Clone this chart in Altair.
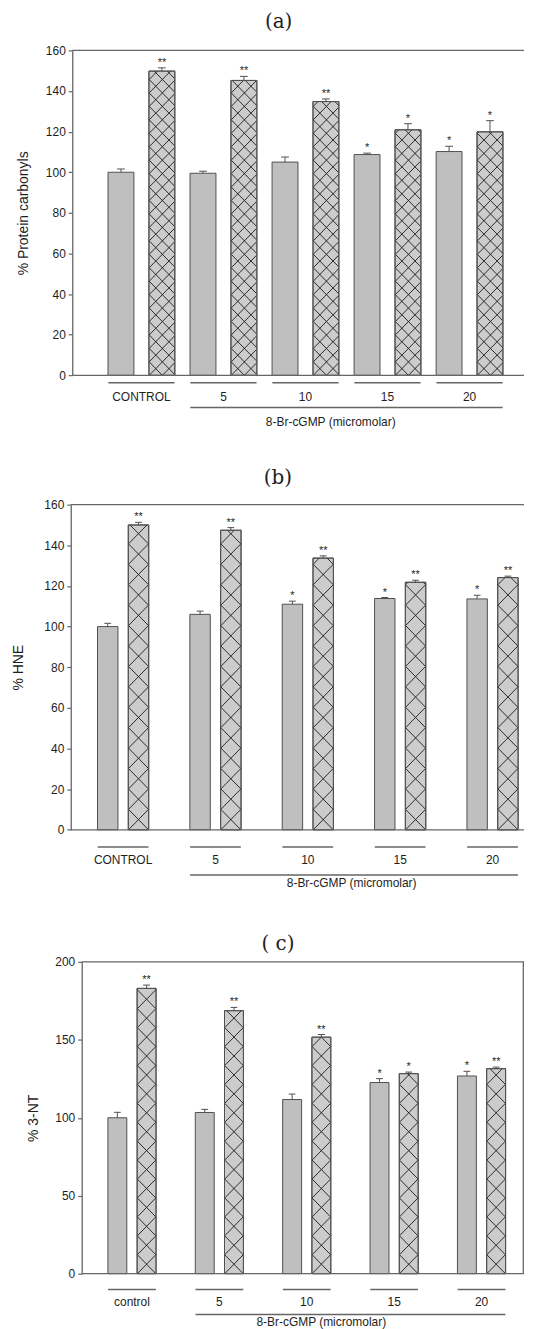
import altair as alt
import pandas as pd

# ---------------- data ----------------
groups_ab = ["CONTROL", "5", "10", "15", "20"]
groups_c = ["control", "5", "10", "15", "20"]

carb_gray = [100.0, 99.5, 105.0, 108.7, 110.2]
carb_gray_err = [1.6, 1.0, 2.5, 0.7, 2.6]
carb_hatch = [149.8, 145.2, 134.8, 120.9, 119.9]
carb_hatch_err = [1.6, 2.0, 1.3, 3.0, 5.5]
carb_gray_sig = ["", "", "", "*", "*"]
carb_hatch_sig = ["**", "**", "**", "*", "*"]

hne_gray = [100.0, 106.0, 111.0, 113.8, 113.6]
hne_gray_err = [1.6, 1.6, 1.5, 0.5, 1.8]
hne_hatch = [150.0, 147.4, 133.7, 121.8, 124.1]
hne_hatch_err = [1.3, 1.3, 1.1, 1.0, 0.7]
hne_gray_sig = ["", "", "*", "*", "*"]
hne_hatch_sig = ["**", "**", "**", "**", "**"]

nt_gray = [100.0, 103.4, 111.7, 122.6, 126.8]
nt_gray_err = [3.5, 2.0, 3.5, 2.5, 3.0]
nt_hatch = [183.0, 168.7, 151.7, 128.3, 131.5]
nt_hatch_err = [2.1, 2.1, 1.7, 1.0, 1.0]
nt_gray_sig = ["", "", "", "*", "*"]
nt_hatch_sig = ["**", "**", "**", "*", "**"]

panel_titles = ["(a)", "(b)", "( c)"]
y_titles = ["% Protein carbonyls", "% HNE", "% 3-NT"]
y_ticks_ab = [0, 20, 40, 60, 80, 100, 120, 140, 160]
y_ticks_c = [0, 50, 100, 150, 200]
dose_title = "8-Br-cGMP (micromolar)"

# ---------------- styles ----------------
FONT = "Liberation Sans"
TFONT = "DejaVu Serif"
LINE = "#666666"
EDGE = "#505050"
TEXT = "#1e1e1e"
GRAY = "#bfbfbf"
HGRAY = "#cccccc"
HATCH = "#1a1a1a"

datasets = [
    dict(groups=groups_ab, gray=carb_gray, gray_err=carb_gray_err, gray_sig=carb_gray_sig,
         hatch=carb_hatch, hatch_err=carb_hatch_err, hatch_sig=carb_hatch_sig,
         ymax=160, ticks=y_ticks_ab, title=panel_titles[0], ytitle=y_titles[0]),
    dict(groups=groups_ab, gray=hne_gray, gray_err=hne_gray_err, gray_sig=hne_gray_sig,
         hatch=hne_hatch, hatch_err=hne_hatch_err, hatch_sig=hne_hatch_sig,
         ymax=160, ticks=y_ticks_ab, title=panel_titles[1], ytitle=y_titles[1]),
    dict(groups=groups_c, gray=nt_gray, gray_err=nt_gray_err, gray_sig=nt_gray_sig,
         hatch=nt_hatch, hatch_err=nt_hatch_err, hatch_sig=nt_hatch_sig,
         ymax=200, ticks=y_ticks_c, title=panel_titles[2], ytitle=y_titles[2]),
]

# common plot-area origin and right edge (page pixels); the chart must stay <= 518 px wide
ORIGIN = 71.0
RIGHT = 525.0
PAGE = 8.0

layouts = [
    dict(axis_x=71.5, top=47.1, bottom=373.3, c0=137.4, gap=84.2, pair=42.0, bw=26, hatch=13.5,
         cap=8, tx=278.7, ty=18.8, ytx=22.5, short_y=380.8, label_y=395.5, long_y=405.7,
         text_x=331, text_y=420, frame=False, cell=(8, 440)),
    dict(axis_x=70.0, top=501.3, bottom=827.7, c0=118.6, gap=94.8, pair=31.6, bw=20.5, hatch=20.5,
         cap=7, tx=278, ty=474.6, ytx=17.7, short_y=845, label_y=858, long_y=873,
         text_x=352, text_y=881, frame=False, cell=(440, 900)),
    dict(axis_x=81.0, top=958, bottom=1271, c0=127.7, gap=89.7, pair=30.0, bw=19, hatch=19,
         cap=7, tx=278, ty=940, ytx=32.5, short_y=1287, label_y=1299, long_y=1312,
         text_x=321.5, text_y=1320, frame=True, cell=(900, 1000)),
]


def build(d, lay):
    L, R, T, B = ORIGIN, RIGHT, lay["top"], lay["bottom"]
    W, H = R - L, B - T
    G = lay["gap"]
    lo = (L - lay["c0"]) / G
    hi = (R - lay["c0"]) / G
    ymax = d["ymax"]
    half_pair = lay["pair"] / 2 / G
    half_bar = lay["bw"] / 2 / G
    half_cap = lay["cap"] / 2 / G
    fl = lay["axis_x"] - L  # visible left frame position inside the plot area

    def xpx(u):
        return (u - lo) * G

    def ypx(v):
        return H * (1 - v / ymax)

    def u_of(px):
        return lo + px / G

    def v_of(py):
        return ymax * (1 - py / H)

    bars = []
    for i, g in enumerate(d["groups"]):
        for s, key in enumerate(["gray", "hatch"]):
            u = i + (2 * s - 1) * half_pair
            v = d[key][i]
            e = d[key + "_err"][i]
            bars.append({"group": g, "series": key, "u": u, "v": v, "top": v + e,
                         "ul": u - half_cap, "ur": u + half_cap, "sig": d[key + "_sig"][i]})
    bdf = pd.DataFrame(bars)

    # cross-hatch segments clipped to each hatched bar
    hrows = []
    w = lay["hatch"]
    for r in bars:
        if r["series"] != "hatch":
            continue
        X0 = xpx(r["u"]) - lay["bw"] / 2
        X1 = X0 + lay["bw"]
        Yt = ypx(r["v"])
        Yb = H
        for k in range(-200, 200):
            c = X0 - Yb + k * w
            a, b = max(X0, Yt + c), min(X1, Yb + c)
            if b - a > 0.3:
                hrows.append({"x1": u_of(a), "x2": u_of(b), "y1": v_of(a - c), "y2": v_of(b - c)})
            c = X0 + Yb + k * w
            a, b = max(X0, c - Yb), min(X1, c - Yt)
            if b - a > 0.3:
                hrows.append({"x1": u_of(a), "x2": u_of(b), "y1": v_of(c - a), "y2": v_of(c - b)})
    hdf = pd.DataFrame(hrows)

    n = len(d["groups"])
    gdf = pd.DataFrame({
        "label": d["groups"],
        "u": list(range(n)),
        "ul": [i - half_pair - half_bar for i in range(n)],
        "ur": [i + half_pair + half_bar for i in range(n)],
    })
    ldf = pd.DataFrame({"ul": [1 - half_pair - half_bar], "ur": [n - 1 + half_pair + half_bar]})
    one = pd.DataFrame({"k": [0]})
    tdf = pd.DataFrame({"t": [dose_title]})
    ttl = pd.DataFrame({"t": [d["title"]]})

    xs = alt.Scale(domain=[lo, hi], nice=False, zero=False)
    ys = alt.Scale(domain=[0, ymax], nice=False)
    xaxis = alt.Axis(labels=False, ticks=False, title=None, grid=False, domain=False)
    yaxis = alt.Axis(values=d["ticks"], title=d["ytitle"], grid=False, offset=-fl,
                     tickSize=4, tickColor=LINE, tickWidth=1.2, domainColor=LINE,
                     domainWidth=1.3, labelFont=FONT, labelFontSize=12, labelColor=TEXT,
                     labelPadding=3, titleFont=FONT, titleFontSize=14,
                     titleFontWeight="normal", titleColor=TEXT,
                     titleX=lay["ytx"] - lay["axis_x"], titleY=H / 2, titleAngle=270,
                     titleAlign="center", titleBaseline="middle")

    def X(f):
        return alt.X(f, type="quantitative", scale=xs, axis=xaxis)

    def Y(f):
        return alt.Y(f, type="quantitative", scale=ys, axis=yaxis)

    layers = []
    # invisible anchor fixing the cell's extent
    layers.append(alt.Chart(one).mark_rule(opacity=0, strokeWidth=0.1).encode(
        x=alt.value(PAGE - L), y=alt.value(lay["cell"][0] - T), y2=alt.value(lay["cell"][1] - T)))
    layers.append(alt.Chart(bdf[bdf.series == "gray"]).mark_bar(
        size=lay["bw"], fill=GRAY, stroke=EDGE, strokeWidth=1).encode(x=X("u"), y=Y("v")))
    layers.append(alt.Chart(bdf[bdf.series == "hatch"]).mark_bar(
        size=lay["bw"], fill=HGRAY, stroke=EDGE, strokeWidth=1).encode(x=X("u"), y=Y("v")))
    layers.append(alt.Chart(hdf).mark_rule(color=HATCH, strokeWidth=0.9).encode(
        x=X("x1"), x2="x2", y=Y("y1"), y2="y2"))
    layers.append(alt.Chart(bdf[bdf.series == "hatch"]).mark_bar(
        size=lay["bw"], fillOpacity=0, stroke=EDGE, strokeWidth=1).encode(x=X("u"), y=Y("v")))
    layers.append(alt.Chart(bdf).mark_rule(color=EDGE, strokeWidth=1).encode(
        x=X("u"), y=Y("v"), y2="top"))
    layers.append(alt.Chart(bdf).mark_rule(color=EDGE, strokeWidth=1).encode(
        x=X("ul"), x2="ur", y=Y("top")))
    layers.append(alt.Chart(bdf[bdf.sig != ""]).mark_text(
        font=FONT, fontSize=11, color=TEXT, baseline="middle", dy=-5).encode(
        x=X("u"), y=Y("top"), text="sig:N"))
    layers.append(alt.Chart(gdf).mark_rule(color=LINE, strokeWidth=1.5).encode(
        x=X("ul"), x2="ur", y=alt.value(lay["short_y"] - T)))
    layers.append(alt.Chart(gdf).mark_text(
        font=FONT, fontSize=12, color=TEXT, baseline="middle").encode(
        x=X("u"), y=alt.value(lay["label_y"] - T), text="label:N"))
    layers.append(alt.Chart(ldf).mark_rule(color=LINE, strokeWidth=1.5).encode(
        x=X("ul"), x2="ur", y=alt.value(lay["long_y"] - T)))
    layers.append(alt.Chart(tdf).mark_text(
        font=FONT, fontSize=12, color=TEXT, baseline="middle").encode(
        x=alt.value(lay["text_x"] - L), y=alt.value(lay["text_y"] - T), text="t:N"))
    layers.append(alt.Chart(ttl).mark_text(
        font=TFONT, fontSize=20, color="#222222", baseline="middle").encode(
        x=alt.value(lay["tx"] - L), y=alt.value(lay["ty"] - T), text="t:N"))
    # frame lines: top and bottom (and right for the boxed panel)
    layers.append(alt.Chart(one).mark_rule(color=LINE, strokeWidth=1.3).encode(
        x=alt.value(fl), x2=alt.value(W), y=alt.value(0)))
    layers.append(alt.Chart(one).mark_rule(color=LINE, strokeWidth=1.3).encode(
        x=alt.value(fl), x2=alt.value(W), y=alt.value(H)))
    if lay["frame"]:
        layers.append(alt.Chart(one).mark_rule(color=LINE, strokeWidth=1.3).encode(
            x=alt.value(W - 0.7), y=alt.value(0), y2=alt.value(H)))

    return alt.layer(*layers).properties(
        width=W, height=H, view=alt.ViewBackground(stroke="transparent"))


panels = [build(d, lay) for d, lay in zip(datasets, layouts)]
chart = alt.vconcat(*panels, spacing=0).properties(padding=0)

chart.save("out.html", embed_options={"renderer": "svg", "actions": False})
